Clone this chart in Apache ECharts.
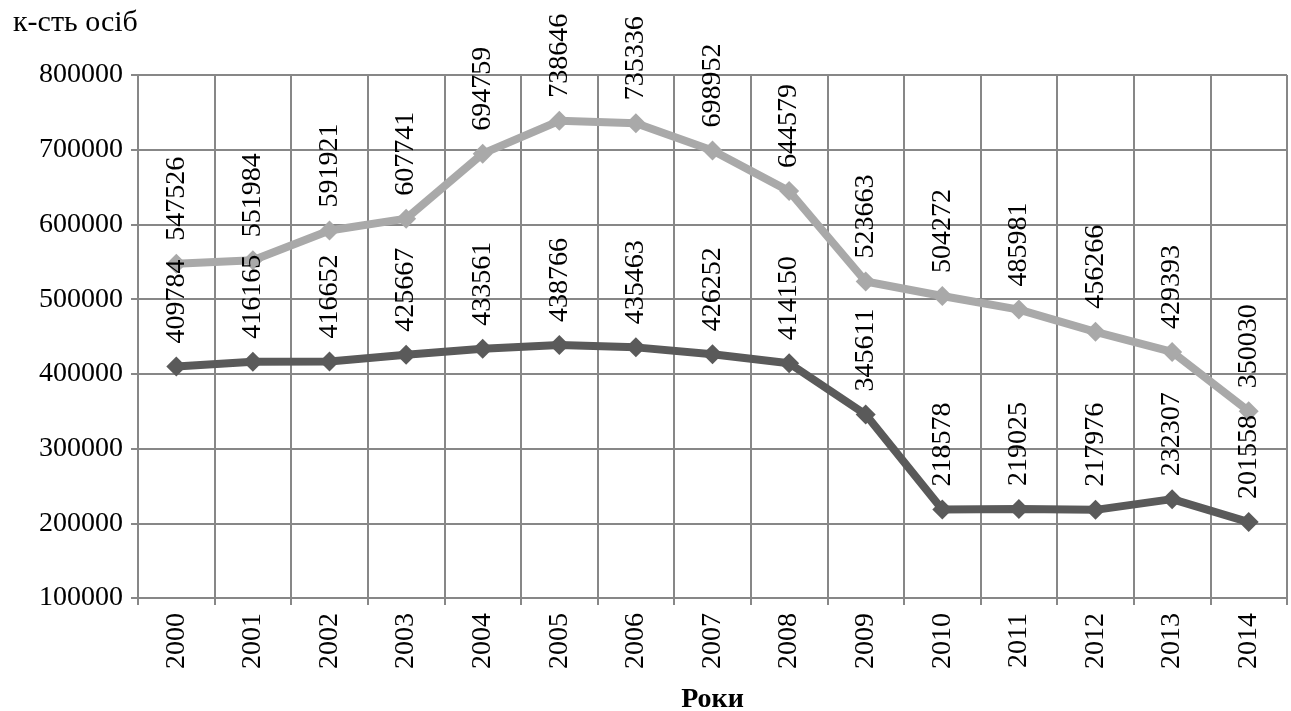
<!DOCTYPE html>
<html>
<head>
<meta charset="utf-8">
<script src="https://cdn.jsdelivr.net/npm/echarts@6/dist/echarts.min.js"></script>
<style>
  html, body { margin: 0; padding: 0; background: #fff; }
  #chart { width: 1291px; height: 711px; }
</style>
</head>
<body>
<div id="chart"></div>
<script>
// Years on the category axis
const years = ['2000', '2001', '2002', '2003', '2004', '2005', '2006', '2007',
               '2008', '2009', '2010', '2011', '2012', '2013', '2014'];

// Upper (light) series
const upperValues = [547526, 551984, 591921, 607741, 694759, 738646, 735336, 698952,
                     644579, 523663, 504272, 485981, 456266, 429393, 350030];

// Lower (dark) series
const lowerValues = [409784, 416165, 416652, 425667, 433561, 438766, 435463, 426252,
                     414150, 345611, 218578, 219025, 217976, 232307, 201558];

// Value-axis range and step
const yMin = 100000;
const yMax = 800000;
const yStep = 100000;

const FONT = '"Liberation Serif", "Times New Roman", serif';
const GRID_COLOR = '#878787';

function lineSeries(name, data, color) {
  return {
    name: name,
    type: 'line',
    data: data,
    symbol: 'diamond',
    symbolSize: 20,
    lineStyle: { color: color, width: 8 },
    itemStyle: { color: color },
    label: {
      show: true,
      position: 'top',
      distance: 13,
      rotate: 90,
      align: 'left',
      verticalAlign: 'middle',
      color: '#000',
      fontFamily: FONT,
      fontSize: 28
    },
    animation: false
  };
}

const chart = echarts.init(document.getElementById('chart'), null, { renderer: 'canvas' });
chart.setOption({
  backgroundColor: '#fff',
  animation: false,
  title: {
    text: 'к-сть осіб',
    left: 8,
    top: 3,
    textStyle: { fontFamily: FONT, fontSize: 30, fontWeight: 'normal', color: '#000' }
  },
  grid: { left: 138, right: 4, top: 75, bottom: 113, containLabel: false, outerBoundsMode: 'none' },
  xAxis: {
    type: 'category',
    data: years,
    boundaryGap: true,
    name: 'Роки',
    nameLocation: 'middle',
    nameGap: 88,
    nameTextStyle: { fontFamily: FONT, fontSize: 28, fontWeight: 'bold', color: '#000' },
    axisLine: { show: true, lineStyle: { color: GRID_COLOR, width: 2 } },
    axisTick: { show: true, length: 7, lineStyle: { color: GRID_COLOR, width: 2 } },
    splitLine: { show: true, lineStyle: { color: GRID_COLOR, width: 2 } },
    axisLabel: {
      rotate: 90,
      margin: 15,
      color: '#000',
      fontFamily: FONT,
      fontSize: 28
    }
  },
  yAxis: {
    type: 'value',
    min: yMin,
    max: yMax,
    interval: yStep,
    axisLine: { show: true, lineStyle: { color: GRID_COLOR, width: 2 } },
    axisTick: { show: true, length: 7, lineStyle: { color: GRID_COLOR, width: 2 } },
    splitLine: { show: true, lineStyle: { color: GRID_COLOR, width: 2 } },
    axisLabel: {
      margin: 15,
      color: '#000',
      fontFamily: FONT,
      fontSize: 28,
      formatter: function (v) { return String(v); }
    }
  },
  series: [
    lineSeries('upper', upperValues, '#a9a9a9'),
    lineSeries('lower', lowerValues, '#5a5a5a')
  ]
});
</script>
</body>
</html>
